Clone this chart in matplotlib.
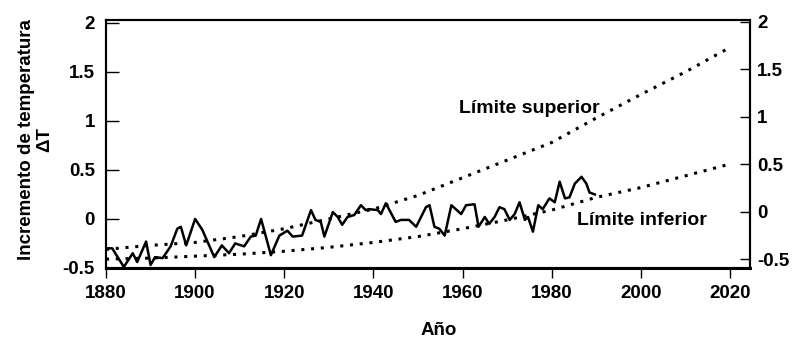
import matplotlib
matplotlib.use("Agg")
import matplotlib.pyplot as plt

plt.rcParams['font.family'] = ['Liberation Sans', 'DejaVu Sans']
plt.rcParams['font.weight'] = 'bold'

years = [1880, 1881.4, 1884, 1886, 1887, 1889, 1890, 1891, 1892.7, 1894.5,
         1896, 1896.8, 1898, 1900, 1901.6, 1904.3, 1906, 1907.6, 1909, 1911,
         1912.5, 1913.6, 1914.8, 1917, 1918.9, 1920.7, 1921.9, 1924, 1926, 1927,
         1928.2, 1929, 1930.9, 1932, 1933, 1934.2, 1935.7, 1937.2, 1938.3, 1939,
         1941, 1941.7, 1942.8, 1945, 1946.2, 1948, 1949.6, 1951.8, 1952.6, 1953.7,
         1954.8, 1956, 1957.5, 1959.7, 1960.8, 1962.7, 1963.6, 1965, 1966, 1967.2,
         1968.3, 1969.4, 1970.6, 1971.7, 1972.8, 1974, 1974.7, 1975.8, 1977, 1978,
         1979.5, 1980.7, 1981.8, 1983, 1984, 1985.2, 1986.7, 1987.8, 1988.5, 1989.7]
temp = [-0.30, -0.30, -0.49, -0.35, -0.44, -0.23, -0.47, -0.39, -0.40, -0.28,
        -0.10, -0.08, -0.27, 0.00, -0.11, -0.39, -0.27, -0.35, -0.25, -0.28,
        -0.18, -0.17, 0.00, -0.37, -0.17, -0.12, -0.18, -0.17, 0.09, -0.01,
        -0.03, -0.18, 0.07, 0.02, -0.06, 0.02, 0.04, 0.14, 0.09, 0.10,
        0.09, 0.05, 0.16, -0.03, -0.01, -0.01, -0.08, 0.12, 0.14, -0.08,
        -0.10, -0.17, 0.14, 0.05, 0.14, 0.15, -0.08, 0.02, -0.05, 0.02,
        0.12, 0.10, -0.01, 0.05, 0.17, -0.01, 0.02, -0.13, 0.14, 0.10,
        0.21, 0.17, 0.38, 0.21, 0.22, 0.36, 0.43, 0.36, 0.27, 0.25]

# projection bounds
bound_years = [1880, 1890, 1900, 1910, 1920, 1930, 1940, 1950, 1960, 1970,
               1980, 1990, 2000, 2010, 2020]
upper = [-0.31, -0.27, -0.24, -0.18, -0.10, 0.00, 0.10, 0.24, 0.42, 0.60,
         0.78, 1.03, 1.27, 1.50, 1.75]
lower = [-0.41, -0.40, -0.38, -0.36, -0.33, -0.29, -0.24, -0.18, -0.10, -0.01,
         0.09, 0.22, 0.32, 0.44, 0.56]

xticks = [1880, 1900, 1920, 1940, 1960, 1980, 2000, 2020]
yticks = [-0.5, 0, 0.5, 1, 1.5, 2]
ytick_labels = ['-0.5', '0', '0.5', '1', '1.5', '2']

fig = plt.figure(figsize=(7.94, 3.40), dpi=100)
ax = fig.add_axes([0.1335, 0.212, 0.811, 0.729])

ax.plot(years, temp, color='black', lw=1.8)
ax.plot(bound_years, upper, color='black', lw=2.2, linestyle=(0, (1, 2.2)))
ax.plot(bound_years, lower, color='black', lw=2.2, linestyle=(0, (1, 2.2)))

ax.set_xlim(1880, 2024.5)
ax.set_ylim(-0.5, 2.03)
ax.set_xticks(xticks)
ax.set_yticks(yticks)
ax.set_yticklabels(ytick_labels)
ax.tick_params(axis='y', direction='in', length=9, width=1, labelsize=13.5, pad=8)
ax.tick_params(axis='x', direction='out', length=7, width=1, labelsize=13.5, pad=5)
for s in ax.spines.values():
    s.set_linewidth(1.5)
ax.spines['bottom'].set_linewidth(2.2)

ax2 = ax.twinx()
ax2.set_ylim(-0.59, 2.02)
ax2.set_yticks(yticks)
ax2.set_yticklabels(ytick_labels)
ax2.tick_params(axis='y', direction='in', length=7, width=1, labelsize=13.5, pad=5)
for s in ax2.spines.values():
    s.set_linewidth(1.5)

ax.text(1959.3, 1.13, 'Límite superior', fontsize=14, fontweight='bold', va='center')
ax.text(1985.6, -0.02, 'Límite inferior', fontsize=14, fontweight='bold', va='center')

fig.text(0.045, 0.59, 'Incremento de temperatura\nΔT', rotation=90,
         ha='center', va='center', fontsize=13.5, fontweight='bold',
         multialignment='center', linespacing=1.1)
fig.text(0.552, 0.027, 'Año', ha='center', va='center', fontsize=13.5, fontweight='bold')

fig.savefig('out.png', dpi=100)
